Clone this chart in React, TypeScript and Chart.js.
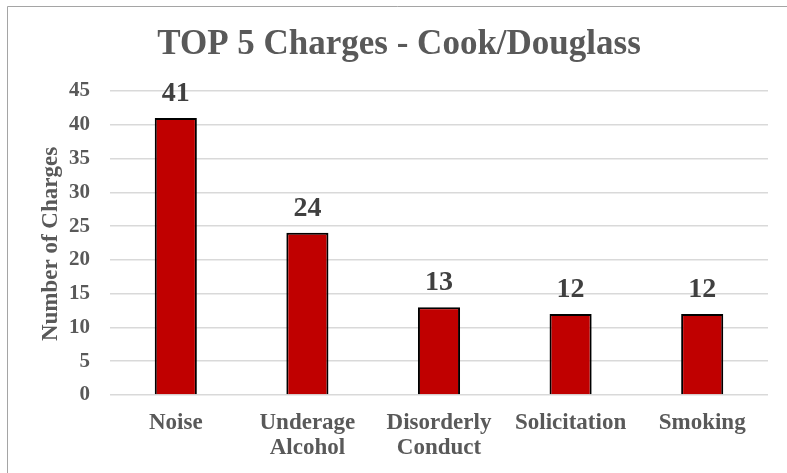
import React, { useEffect, useRef } from "react";
import { Chart, registerables } from "chart.js";

Chart.register(...registerables);

const categories: (string | string[])[] = [
  "Noise",
  ["Underage", "Alcohol"],
  ["Disorderly", "Conduct"],
  "Solicitation",
  "Smoking",
];
const charges: number[] = [41, 24, 13, 12, 12];
const yTicks: number[] = [0, 5, 10, 15, 20, 25, 30, 35, 40, 45];
const chartTitle = "TOP 5 Charges - Cook/Douglass";
const yAxisTitle = "Number of Charges";

const FONT = "'Liberation Serif', 'Times New Roman', serif";

const decorPlugin = {
  id: "decor",
  beforeDraw(chart: any) {
    const ctx = chart.ctx;
    ctx.save();
    ctx.fillStyle = "#ffffff";
    ctx.fillRect(0, 0, chart.width, chart.height);
    ctx.strokeStyle = "#A5A5A5";
    ctx.lineWidth = 1;
    ctx.beginPath();
    ctx.moveTo(7.5, chart.height + 5);
    ctx.lineTo(7.5, 6.5);
    ctx.lineTo(chart.width + 5, 6.5);
    ctx.stroke();
    ctx.restore();
  },
  afterDraw(chart: any) {
    const ctx = chart.ctx;
    ctx.save();
    // title
    ctx.fillStyle = "#595959";
    ctx.font = `bold 35px ${FONT}`;
    ctx.textAlign = "center";
    ctx.textBaseline = "alphabetic";
    ctx.fillText(chartTitle, 399, 54);
    // y-axis title
    ctx.save();
    ctx.translate(57, 244);
    ctx.rotate(-Math.PI / 2);
    ctx.font = `bold 23px ${FONT}`;
    ctx.textAlign = "center";
    ctx.textBaseline = "alphabetic";
    ctx.fillText(yAxisTitle, 0, 0);
    ctx.restore();
    // data labels
    const meta = chart.getDatasetMeta(0);
    ctx.fillStyle = "#404040";
    ctx.font = `bold 28px ${FONT}`;
    ctx.textAlign = "center";
    ctx.textBaseline = "alphabetic";
    meta.data.forEach((bar: any, i: number) => {
      ctx.fillText(String(charges[i]), bar.x, bar.y - 17);
    });
    ctx.restore();
  },
};

export default function App() {
  const ref = useRef<HTMLCanvasElement | null>(null);
  useEffect(() => {
    if (!ref.current) return;
    const chart = new Chart(ref.current, {
      type: "bar",
      data: {
        labels: categories,
        datasets: [
          {
            data: charges,
            backgroundColor: "#C00000",
            borderColor: "#000000",
            borderWidth: 2,
            barPercentage: 0.32,
            categoryPercentage: 1,
          },
        ],
      },
      options: {
        responsive: false,
        animation: false,
        devicePixelRatio: 1,
        layout: { padding: { top: 91, right: 19, left: 0, bottom: 0 } },
        plugins: {
          legend: { display: false },
          title: { display: false },
          tooltip: { enabled: false },
        },
        scales: {
          x: {
            afterFit: (s: any) => {
              s.height = 78;
            },
            grid: { display: false, drawTicks: false },
            border: { display: false },
            ticks: {
              padding: 15,
              color: "#595959",
              font: { family: FONT, size: 23, weight: "bold", lineHeight: 1.1 },
              maxRotation: 0,
              autoSkip: false,
            },
          },
          y: {
            min: 0,
            max: 45,
            afterFit: (s: any) => {
              s.width = 110;
            },
            afterBuildTicks: (s: any) => {
              s.ticks = yTicks.map((v) => ({ value: v }));
            },
            grid: { color: "#D9D9D9", lineWidth: 1.5, drawTicks: false },
            border: { display: false },
            ticks: {
              padding: 20,
              color: "#595959",
              font: { family: FONT, size: 21, weight: "bold" },
            },
          },
        },
      },
      plugins: [decorPlugin],
    });
    return () => chart.destroy();
  }, []);
  return (
    <div style={{ position: "fixed", left: 0, top: 0, width: 787, height: 473 }}>
      <canvas ref={ref} width={787} height={473} style={{ width: 787, height: 473 }} />
    </div>
  );
}
